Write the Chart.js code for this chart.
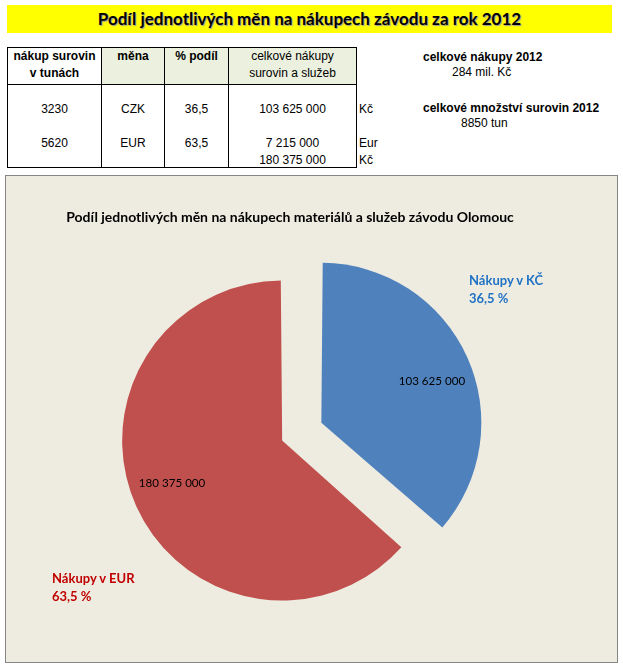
<!DOCTYPE html>
<html>
<head>
<meta charset="utf-8">
<script src="https://cdn.jsdelivr.net/npm/chart.js@4/dist/chart.umd.min.js"></script>
<style>
    body { margin: 0; width: 623px; height: 667px; background: #fff; position: relative; overflow: hidden; font-family: 'Liberation Sans', Arial, sans-serif; }
    #nadpis { position: absolute; left: 7px; top: 5px; width: 605px; height: 28px; background: #ffff00; text-align: center; line-height: 28px; font-family: Lato, sans-serif; font-weight: bold; font-size: 17px; color: #000; text-shadow: 1px 1px 1px #999; }
    #tabulka { position: absolute; left: 7px; top: 47px; border-collapse: collapse; font-size: 12px; table-layout: fixed; }
    #tabulka td { padding: 0; text-align: center; border-left: 1px solid #000; border-right: 1px solid #000; line-height: 14px; }
    #tabulka tr.hlavicka td { border-top: 1px solid #000; border-bottom: 1px solid #000; vertical-align: top; line-height: 17px; height: 36px; }
    #tabulka tr.hlavicka td.zeleny { background: #ebf1de; }
    #tabulka tr.posledni td { border-bottom: 1px solid #000; }
    #tabulka td.mena { border: none !important; text-align: left; padding-left: 2px; }
    .souhrn { position: absolute; font-size: 12px; line-height: 15px; color: #000; }
    .souhrn b { display: block; }
    #graf { position: absolute; left: 5px; top: 175px; width: 613px; height: 488px; box-sizing: border-box; border: 1px solid #868686; background: #eeece1; }
    #graf canvas { position: absolute; left: 0; top: 0; }
    .popis { position: absolute; font-family: Lato, sans-serif; font-weight: bold; font-size: 13px; line-height: 18px; }
</style>
</head>
<body>
<div id="nadpis">Podíl jednotlivých měn na nákupech závodu za rok 2012</div>

<table id="tabulka">
    <colgroup>
        <col style="width:94px"><col style="width:63px"><col style="width:64px"><col style="width:128px"><col style="width:30px">
    </colgroup>
    <tbody id="telo"></tbody>
</table>

<div class="souhrn" style="left:423px; top:50px;"><b>celkové nákupy 2012</b><span style="padding-left:29px">284 mil. Kč</span></div>
<div class="souhrn" style="left:423px; top:101px;"><b>celkové množství surovin 2012</b><span style="padding-left:38px">8850 tun</span></div>

<div id="graf">
    <canvas id="kolac" width="611" height="486"></canvas>
    <div class="popis" id="popisCZK" style="left:463px; top:95px; color:#1f72c4;"></div>
    <div class="popis" id="popisEUR" style="left:46px; top:393px; color:#c00000;"></div>
</div>

<script>
// Data
const tons = [3230, 5620];
const currencies = ['CZK', 'EUR'];
const shares = [36.5, 63.5];
const purchasesKc = [103625000, 180375000];
const purchasesEur = [null, 7215000];
const sliceLabels = ['Nákupy v KČ', 'Nákupy v EUR'];
const sliceColors = ['#4f81bd', '#c0504d'];
const chartTitle = 'Podíl jednotlivých měn na nákupech materiálů a služeb závodu Olomouc';

function formatNum(n) {
    return String(n).replace(/\B(?=(\d{3})+(?!\d))/g, ' ');
}
function formatPct(n) {
    return n.toFixed(1).replace('.', ',');
}

// Table
function buildTable() {
    const tbody = document.getElementById('telo');
    let html = `
        <tr class="hlavicka">
            <td><b>nákup surovin<br>v tunách</b></td>
            <td class="zeleny"><b>měna</b></td>
            <td class="zeleny"><b>% podíl</b></td>
            <td class="zeleny">celkové nákupy<br>surovin a služeb</td>
            <td class="mena"></td>
        </tr>
        <tr style="height:48px">
            <td>${tons[0]}</td><td>${currencies[0]}</td><td>${formatPct(shares[0])}</td>
            <td>${formatNum(purchasesKc[0])}</td><td class="mena">Kč</td>
        </tr>
        <tr style="height:20px">
            <td>${tons[1]}</td><td>${currencies[1]}</td><td>${formatPct(shares[1])}</td>
            <td>${formatNum(purchasesEur[1])}</td><td class="mena">Eur</td>
        </tr>
        <tr class="posledni" style="height:15px">
            <td></td><td></td><td></td>
            <td style="vertical-align:top">${formatNum(purchasesKc[1])}</td><td class="mena" style="vertical-align:top">Kč</td>
        </tr>`;
    tbody.innerHTML = html;
}
buildTable();

document.getElementById('popisCZK').innerHTML = sliceLabels[0] + '<br>' + formatPct(shares[0]) + ' %';
document.getElementById('popisEUR').innerHTML = sliceLabels[1] + '<br>' + formatPct(shares[1]) + ' %';

// Value labels inside slices
const valueLabels = {
    id: 'valueLabels',
    afterDatasetsDraw(chart) {
        const ctx = chart.ctx;
        const meta = chart.getDatasetMeta(0);
        ctx.save();
        ctx.font = '11.6px Lato';
        ctx.fillStyle = '#000';
        ctx.textAlign = 'center';
        ctx.textBaseline = 'middle';
        meta.data.forEach((arc, i) => {
            const mid = (arc.startAngle + arc.endAngle) / 2 + 0.05;
            const shift = (arc.options.offset || 0) / 4;
            const dist = shift + arc.outerRadius * 0.78;
            ctx.fillText(formatNum(purchasesKc[i]), arc.x + Math.cos(mid) * dist, arc.y + Math.sin(mid) * dist);
        });
        ctx.restore();
    }
};

Chart.defaults.font.family = 'Lato';

const pieChart = new Chart(document.getElementById('kolac').getContext('2d'), {
    type: 'pie',
    data: {
        labels: sliceLabels,
        datasets: [{
            data: purchasesKc,
            backgroundColor: sliceColors,
            borderWidth: 0,
            offset: [137.6, 34.4],
            radius: 151.4
        }]
    },
    options: {
        responsive: false,
        animation: false,
        devicePixelRatio: 1,
        layout: {
            padding: { left: 0, right: 43, top: 0, bottom: 22.6 }
        },
        plugins: {
            legend: { display: false },
            tooltip: { enabled: false },
            title: {
                display: true,
                text: chartTitle,
                color: '#000',
                font: { size: 14, weight: 'bold' },
                padding: { top: 32.6, bottom: 9.2 }
            }
        }
    },
    plugins: [valueLabels]
});
</script>
</body>
</html>
